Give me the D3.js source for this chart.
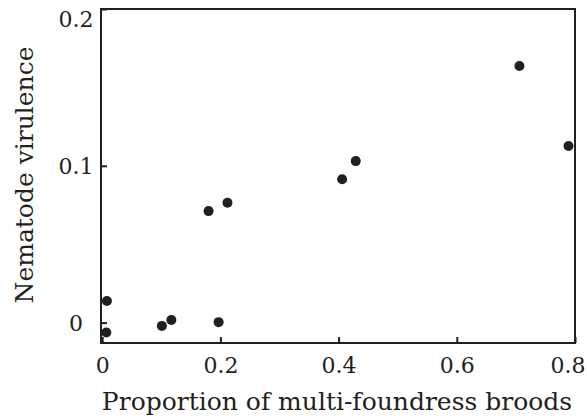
<!DOCTYPE html>
<html>
<head>
<meta charset="utf-8">
<script src="https://cdn.jsdelivr.net/npm/d3@7"></script>
<style>
  body { margin: 0; background: #fff; }
  svg text { font-family: "DejaVu Serif", serif; fill: #231f20; }
</style>
</head>
<body>
<div id="chart"></div>
<script>
// proportion of multi-foundress broods vs nematode virulence
const proportion = [0.008, 0.007, 0.101, 0.117, 0.197, 0.180, 0.212, 0.406, 0.429, 0.706, 0.789];
const virulence = [0.0138, -0.0063, -0.0021, 0.0017, 0.0003, 0.0711, 0.0764, 0.0914, 0.1030, 0.1636, 0.1126];
const xTicks = [0, 0.2, 0.4, 0.6, 0.8];
const yTicks = [0, 0.1, 0.2];
const xTitle = "Proportion of multi-foundress broods";
const yTitle = "Nematode virulence";

const width = 587,
  height = 416;
const margin = { top: 9, right: 12, bottom: 73, left: 101 };
const ink = "#231f20";

const x = d3
  .scaleLinear()
  .domain([-0.002, 0.8])
  .range([margin.left, width - margin.right]);

const y = d3
  .scaleLinear()
  .domain([-0.013, 0.2])
  .range([height - margin.bottom, margin.top]);

const svg = d3
  .select("#chart")
  .append("svg")
  .attr("width", width)
  .attr("height", height);

// frame
svg
  .append("rect")
  .attr("x", margin.left)
  .attr("y", margin.top)
  .attr("width", width - margin.left - margin.right)
  .attr("height", height - margin.top - margin.bottom)
  .attr("fill", "none")
  .attr("stroke", ink)
  .attr("stroke-width", 2);

// x axis, ticks point inward
svg
  .append("g")
  .attr("transform", `translate(0,${height - margin.bottom})`)
  .call(d3.axisBottom(x).tickValues(xTicks).tickSize(-6).tickFormat(d3.format("")))
  .call((g) => g.select(".domain").remove())
  .call((g) => g.selectAll(".tick line").attr("stroke", ink).attr("stroke-width", 2))
  .call((g) =>
    g
      .selectAll(".tick text")
      .attr("font-size", 22)
      .attr("font-family", null)
      .attr("y", 30)
      .attr("dy", 0)
      // last label kept inside the page
      .attr("text-anchor", (d) => (d === 0.8 ? "end" : "middle"))
      .attr("x", (d) => (d === 0.8 ? 10 : 0))
  );

// y axis, ticks point inward, labels centred
svg
  .append("g")
  .attr("transform", `translate(${margin.left},0)`)
  .call(d3.axisLeft(y).tickValues(yTicks).tickSize(-6).tickFormat(d3.format("")))
  .call((g) => g.select(".domain").remove())
  .call((g) => g.selectAll(".tick line").attr("stroke", ink).attr("stroke-width", 2))
  .call((g) =>
    g
      .selectAll(".tick text")
      .attr("font-size", 22)
      .attr("font-family", null)
      .attr("text-anchor", "middle")
      .attr("x", -25)
      .attr("dy", (d) => (d === 0.2 ? 17 : 8))
  );

svg
  .append("g")
  .selectAll("circle")
  .data(proportion.map((p, i) => [p, virulence[i]]))
  .join("circle")
  .attr("cx", (d) => x(d[0]))
  .attr("cy", (d) => y(d[1]))
  .attr("r", 5)
  .attr("fill", ink);

svg
  .append("text")
  .attr("x", 337)
  .attr("y", 410)
  .attr("text-anchor", "middle")
  .attr("font-size", 25)
  .text(xTitle);

svg
  .append("text")
  .attr("transform", "translate(33,175) rotate(-90)")
  .attr("text-anchor", "middle")
  .attr("font-size", 25)
  .text(yTitle);
</script>
</body>
</html>
